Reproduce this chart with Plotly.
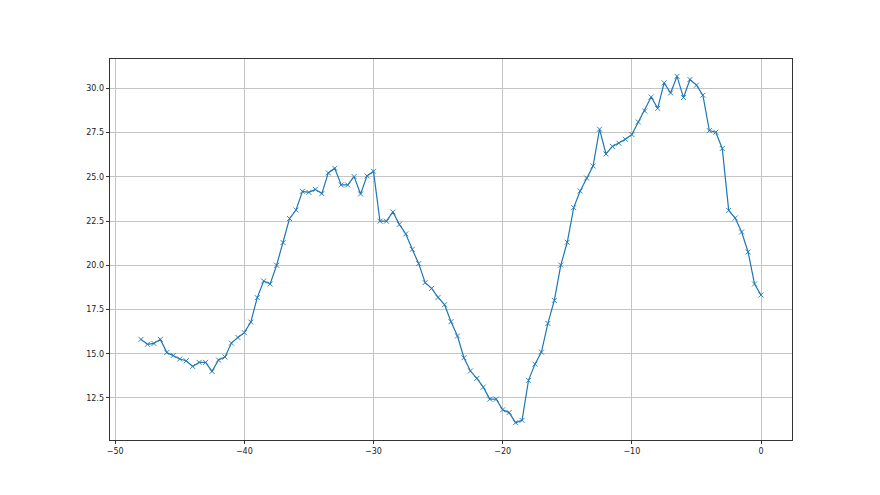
import plotly.graph_objects as go

# ─── Data ────────────────────────────────────────────────────────────────────
X_VALUES = [i * 0.5 for i in range(-96, 1)]  # -48 .. 0 step 0.5

Y_VALUES = [
    15.81, 15.53, 15.58, 15.81, 15.07, 14.90, 14.70, 14.60, 14.28, 14.51,
    14.51, 14.00, 14.64, 14.81, 15.60, 15.92, 16.19, 16.79,
    18.17, 19.11, 18.94, 20.00, 21.28, 22.64, 23.12, 24.18, 24.12, 24.29,
    24.05, 25.22, 25.48, 24.54, 24.54, 25.01, 24.03, 25.05, 25.31, 22.49,
    22.49,
    23.01, 22.31, 21.77, 20.90, 20.09, 19.02, 18.69, 18.18, 17.77, 16.81,
    16.00, 14.77, 14.02, 13.60, 13.11, 12.43, 12.43, 11.83, 11.67,
    11.10, 11.23, 13.49, 14.41, 15.09, 16.71, 18.01, 20.01, 21.30, 23.26,
    24.20, 24.93, 25.61, 27.69, 26.29, 26.72, 26.90, 27.12, 27.39, 28.10,
    28.72, 29.51, 28.87, 30.31, 29.74, 30.68, 29.48, 30.50, 30.18, 29.61,
    27.61, 27.52, 26.60, 23.10, 22.67, 21.88, 20.75, 18.94, 18.32,
]

X_TICKS = [-50, -40, -30, -20, -10, 0]
Y_TICKS = [12.5, 15.0, 17.5, 20.0, 22.5, 25.0, 27.5, 30.0]

LINE_COLOR = "#1f77b4"
GRID = "#c4c4c4"


def _padded(vals, frac=0.05):
    lo, hi = min(vals), max(vals)
    pad = (hi - lo) * frac
    return [lo - pad, hi + pad]


fig = go.Figure(go.Scatter(
    x=X_VALUES, y=Y_VALUES,
    mode="lines+markers",
    line=dict(color=LINE_COLOR, width=1.2),
    marker=dict(symbol="x-thin", size=5, color=LINE_COLOR,
                line=dict(width=0.9, color=LINE_COLOR)),
    showlegend=False,
))

axis_common = dict(
    showgrid=True, gridcolor=GRID, gridwidth=0.8,
    zeroline=False,
    showline=True, linecolor="#333333", linewidth=0.8, mirror=True,
    ticks="outside", ticklen=3.5, tickwidth=0.8, tickcolor="#333333",
    tickfont=dict(family="DejaVu Sans", size=8, color="#222222"),
)

# the page body adds an 8px offset, so margins are trimmed by that amount
fig.update_layout(
    width=880, height=495,
    paper_bgcolor="white", plot_bgcolor="white",
    margin=dict(l=102, r=96, t=51, b=63),
    xaxis=dict(range=_padded(X_VALUES), tickvals=X_TICKS, **axis_common),
    yaxis=dict(range=_padded(Y_VALUES), tickvals=Y_TICKS, tickformat=".1f",
               **axis_common),
)

fig.write_html("out.html")
